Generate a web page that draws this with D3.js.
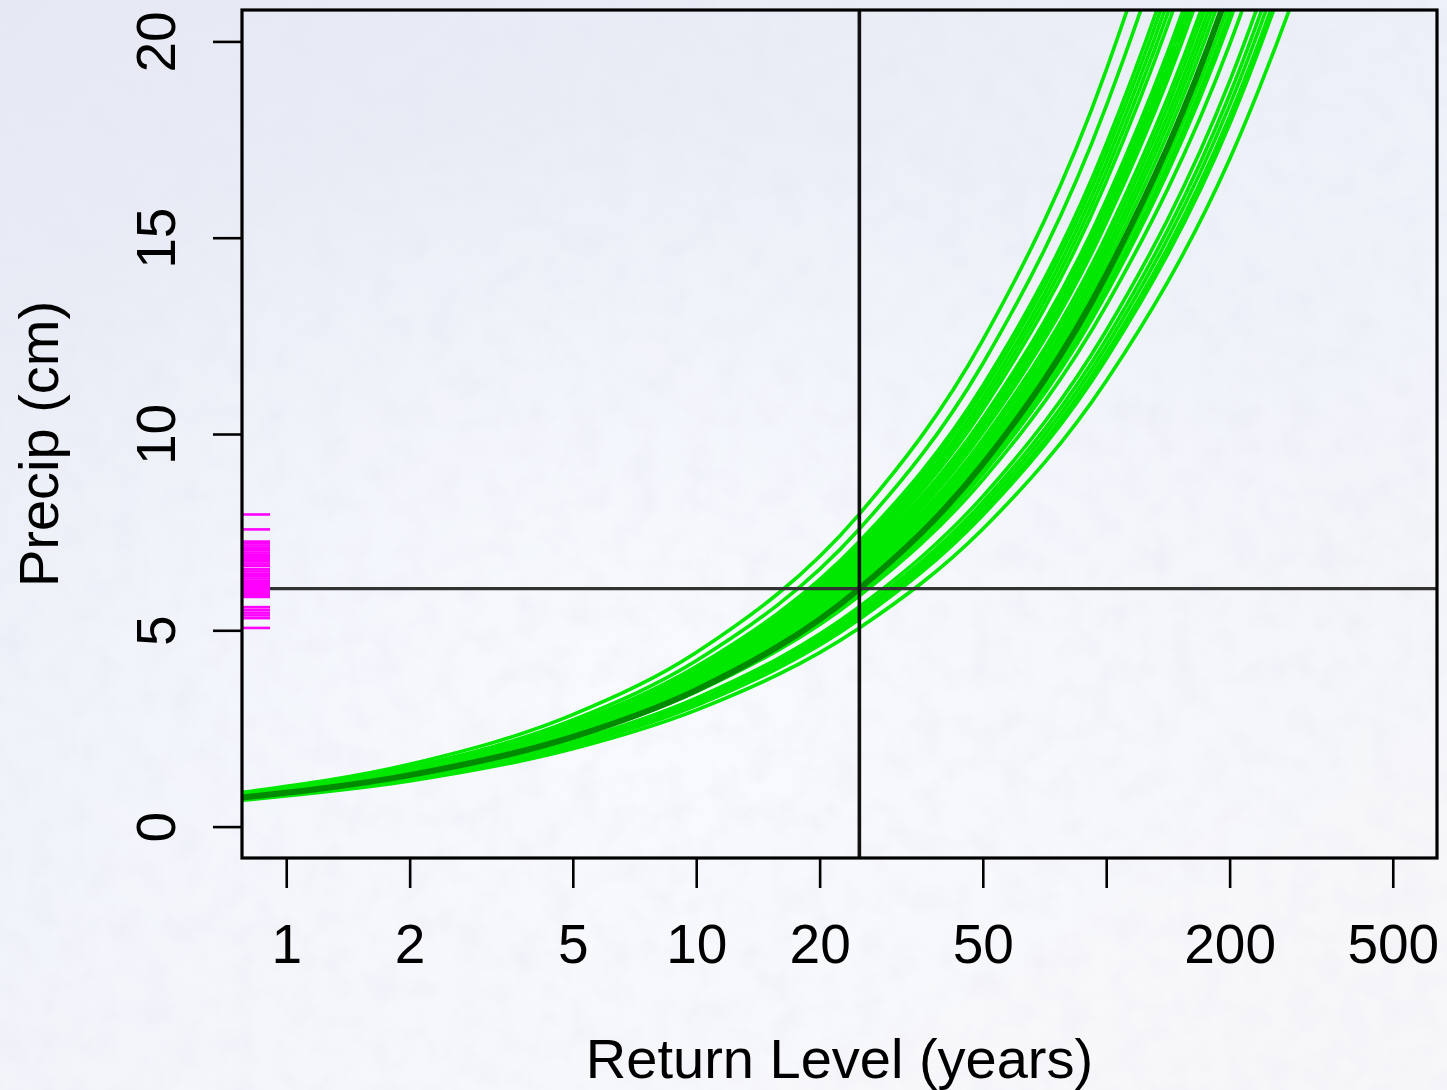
<!DOCTYPE html>
<html><head><meta charset="utf-8">
<script src="https://cdn.jsdelivr.net/npm/d3@7"></script>
<style>html,body{margin:0;padding:0;overflow:hidden;background:#fff}svg{display:block}</style>
</head><body>
<svg id="c" width="1447" height="1090"></svg>
<script>
// ---- data ----
const returnPeriods = [0.78, 2, 5, 10, 25, 50, 100, 200, 350];
const ensembleCurves = [
  [0.872, 1.588, 2.852, 4.437, 7.96, 12.39, 19.27, 29.99, 42.9],
  [0.830, 1.512, 2.716, 4.225, 7.58, 11.79, 18.35, 28.56, 40.8],
  [0.817, 1.478, 2.635, 4.076, 7.26, 11.23, 17.38, 26.90, 38.3],
  [0.806, 1.458, 2.598, 4.020, 7.16, 11.08, 17.15, 26.53, 37.8],
  [0.795, 1.437, 2.562, 3.964, 7.06, 10.92, 16.91, 26.16, 37.2],
  [0.784, 1.417, 2.526, 3.908, 6.96, 10.77, 16.67, 25.79, 36.7],
  [0.772, 1.397, 2.490, 3.852, 6.86, 10.62, 16.43, 25.42, 36.2],
  [0.798, 1.427, 2.512, 3.852, 6.78, 10.40, 15.95, 24.45, 34.5],
  [0.789, 1.410, 2.482, 3.807, 6.70, 10.28, 15.76, 24.16, 34.1],
  [0.779, 1.394, 2.453, 3.761, 6.62, 10.15, 15.57, 23.87, 33.7],
  [0.770, 1.377, 2.423, 3.716, 6.54, 10.03, 15.38, 23.59, 33.3],
  [0.779, 1.384, 2.421, 3.694, 6.46, 9.86, 15.05, 22.96, 32.3],
  [0.769, 1.367, 2.391, 3.649, 6.38, 9.74, 14.86, 22.68, 31.9],
  [0.760, 1.349, 2.361, 3.603, 6.30, 9.61, 14.67, 22.39, 31.5],
  [0.750, 1.332, 2.331, 3.557, 6.22, 9.49, 14.49, 22.11, 31.1],
  [0.740, 1.315, 2.301, 3.511, 6.14, 9.37, 14.30, 21.82, 30.7],
  [0.770, 1.349, 2.330, 3.522, 6.08, 9.19, 13.89, 20.99, 29.3],
  [0.760, 1.331, 2.300, 3.476, 6.00, 9.07, 13.71, 20.72, 28.9],
  [0.752, 1.318, 2.277, 3.441, 5.94, 8.98, 13.57, 20.51, 28.6],
  [0.768, 1.335, 2.287, 3.435, 5.88, 8.83, 13.27, 19.92, 27.7],
  [0.731, 1.271, 2.178, 3.271, 5.60, 8.41, 12.63, 18.98, 26.4],
  [0.718, 1.249, 2.139, 3.213, 5.50, 8.26, 12.41, 18.64, 25.9],
  [0.708, 1.230, 2.108, 3.166, 5.42, 8.14, 12.23, 18.37, 25.5],
  [0.697, 1.212, 2.077, 3.119, 5.34, 8.02, 12.05, 18.09, 25.1],
  [0.690, 1.199, 2.053, 3.084, 5.28, 7.93, 11.91, 17.89, 24.9],
  [0.670, 1.160, 1.980, 2.966, 5.06, 7.58, 11.35, 17.00, 23.6]
];
const centralCurve = [0.740, 1.310, 2.284, 3.477, 6.06, 9.23, 14.05, 21.38, 30.0];
const rugLevels = [7.95, 7.57, 7.26, 7.22, 7.16, 7.10, 7.04, 6.98, 6.92, 6.86, 6.82, 6.76,
  6.70, 6.64, 6.56, 6.50, 6.44, 6.38, 6.32, 6.26, 6.21, 6.15, 6.10, 6.06, 6.00, 5.95,
  5.90, 5.85, 5.59, 5.52, 5.45, 5.38, 5.31, 5.06];
const refPeriod = 25;
const refLevel = 6.06;
const xTickValues = [1, 2, 5, 10, 20, 50, 100, 200, 500];
const xTickLabels = ["1", "2", "5", "10", "20", "50", "", "200", "500"];
const yTickValues = [0, 5, 10, 15, 20];
const xTitle = "Return Level (years)";
const yTitle = "Precip (cm)";

// ---- layout ----
const W = 1447, H = 1090;
const L = 242, R = 1437, T = 10, B = 858;
const FONT = "'Liberation Sans', Arial, Helvetica, sans-serif";
const svg = d3.select("#c");
const defs = svg.append("defs");

// background
const lg = defs.append("linearGradient").attr("id", "bg").attr("x1", 0).attr("y1", 0).attr("x2", 0.6).attr("y2", 1);
lg.append("stop").attr("offset", "0").attr("stop-color", "#e6e9f4");
lg.append("stop").attr("offset", "0.55").attr("stop-color", "#eef2f9");
lg.append("stop").attr("offset", "1").attr("stop-color", "#f7f7fa");
const rg = defs.append("radialGradient").attr("id", "glow").attr("cx", 0.45).attr("cy", 0.65).attr("r", 0.55);
rg.append("stop").attr("offset", "0").attr("stop-color", "#f9fbfe").attr("stop-opacity", 0.9);
rg.append("stop").attr("offset", "1").attr("stop-color", "#f9fbfe").attr("stop-opacity", 0);
const nf = defs.append("filter").attr("id", "noise").attr("x", 0).attr("y", 0).attr("width", "100%").attr("height", "100%");
nf.append("feTurbulence").attr("type", "fractalNoise").attr("baseFrequency", 0.035).attr("numOctaves", 3).attr("seed", 4);
nf.append("feColorMatrix").attr("type", "matrix")
  .attr("values", "0 0 0 0 0.78  0 0 0 0 0.78  0 0 0 0 0.88  0 0 0 -1.6 0.95");
defs.append("clipPath").attr("id", "plotclip").append("rect")
  .attr("x", L).attr("y", T).attr("width", R - L).attr("height", B - T);

svg.append("rect").attr("width", W).attr("height", H).attr("fill", "url(#bg)");
svg.append("rect").attr("width", W).attr("height", H).attr("fill", "url(#glow)");
svg.append("rect").attr("width", W).attr("height", H).attr("filter", "url(#noise)").attr("opacity", 0.35);

// scales
const x = d3.scaleLog().domain([0.780, 641]).range([L, R]);
const y = d3.scaleLinear().domain([-0.8, 20.8]).range([B, T]);

const line = d3.line()
  .x((d, i) => x(returnPeriods[i]))
  .y(d => y(d))
  .curve(d3.curveMonotoneX);

const plot = svg.append("g").attr("clip-path", "url(#plotclip)");
plot.selectAll("path.ens").data(ensembleCurves).enter().append("path")
  .attr("class", "ens").attr("d", line)
  .attr("fill", "none").attr("stroke", "#00e800").attr("stroke-width", 3.6);
plot.append("path").datum(centralCurve).attr("d", line)
  .attr("fill", "none").attr("stroke", "#008a00").attr("stroke-width", 6);

// reference lines
plot.append("line").attr("x1", L).attr("x2", R).attr("y1", y(refLevel)).attr("y2", y(refLevel))
  .attr("stroke", "#333").attr("stroke-width", 3.3);
plot.append("line").attr("x1", x(refPeriod)).attr("x2", x(refPeriod)).attr("y1", T).attr("y2", B)
  .attr("stroke", "#111").attr("stroke-width", 3.6);

// rug
plot.selectAll("line.rug").data(rugLevels).enter().append("line")
  .attr("class", "rug")
  .attr("x1", L + 1).attr("x2", 270)
  .attr("y1", d => y(d)).attr("y2", d => y(d))
  .attr("stroke", "#ff00ff").attr("stroke-width", 2.6);

// axes
const xAxis = d3.axisBottom(x).tickValues(xTickValues)
  .tickFormat((d, i) => xTickLabels[i]).tickSize(30).tickPadding(36);
const gx = svg.append("g").attr("transform", `translate(0,${B})`).call(xAxis);
gx.select(".domain").remove();
gx.selectAll(".tick line").attr("stroke", "#000").attr("stroke-width", 2.6);
gx.selectAll(".tick text").attr("font-family", FONT).attr("font-size", 55).attr("fill", "#000")
  .attr("dy", "0.71em");

const yAxis = d3.axisLeft(y).tickValues(yTickValues).tickSize(29).tickPadding(0);
const gy = svg.append("g").attr("transform", `translate(${L},0)`).call(yAxis);
gy.select(".domain").remove();
gy.selectAll(".tick line").attr("stroke", "#000").attr("stroke-width", 2.6);
gy.selectAll(".tick text")
  .attr("font-family", FONT).attr("font-size", 55).attr("fill", "#000")
  .attr("text-anchor", "middle").attr("dy", null)
  .attr("x", null)
  .attr("transform", `translate(${175 - L},0) rotate(-90)`);

// box
svg.append("rect").attr("x", L).attr("y", T).attr("width", R - L).attr("height", B - T)
  .attr("fill", "none").attr("stroke", "#000").attr("stroke-width", 3.2);

// titles
svg.append("text").attr("x", (L + R) / 2).attr("y", 1078).attr("text-anchor", "middle")
  .attr("font-family", FONT).attr("font-size", 56).attr("fill", "#000").text(xTitle);
svg.append("text").attr("transform", `translate(58,${(T + B) / 2 + 10}) rotate(-90)`)
  .attr("text-anchor", "middle")
  .attr("font-family", FONT).attr("font-size", 56).attr("fill", "#000").text(yTitle);
</script>
</body></html>
